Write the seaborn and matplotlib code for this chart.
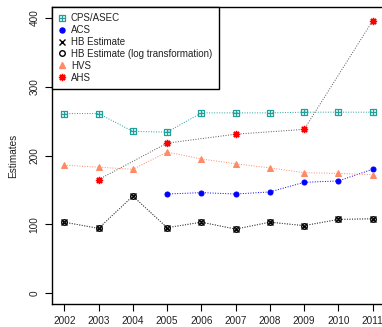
import numpy as np
import matplotlib
matplotlib.use("Agg")
import matplotlib.pyplot as plt
from matplotlib.path import Path
from matplotlib.lines import Line2D
import seaborn as sns

sns.set_style("white")
plt.rcParams['font.family'] = ['Liberation Sans', 'DejaVu Sans']

# --- data ---
years = [2002, 2003, 2004, 2005, 2006, 2007, 2008, 2009, 2010, 2011]
cps_asec = [261, 261, 235, 234, 262, 262, 262, 263, 263, 263]
hvs = [186, 183, 180, 205, 195, 188, 182, 175, 174, 172]
hb_est = [103, 94, 141, 95, 103, 93, 103, 98, 107, 108]
hb_log = [103, 94, 141, 95, 103, 93, 103, 98, 107, 108]

acs_years = [2005, 2006, 2007, 2008, 2009, 2010, 2011]
acs = [144, 146, 144, 147, 161, 163, 180]

ahs_years = [2003, 2005, 2007, 2009, 2011]
ahs = [165, 218, 231, 238, 396]

teal = "#1fa09b"
salmon = "#ff8a66"
txt = "#222222"

# square with a plus inside (R pch 12)
sq_plus = Path(
    [(-1, -1), (1, -1), (1, 1), (-1, 1), (-1, -1), (0, -1), (0, 1), (-1, 0), (1, 0)],
    [Path.MOVETO, Path.LINETO, Path.LINETO, Path.LINETO, Path.CLOSEPOLY,
     Path.MOVETO, Path.LINETO, Path.MOVETO, Path.LINETO])
asterisk = (8, 2, 0)
dot = (0, (1, 1.6))

fig = plt.figure(figsize=(3.82, 3.27), dpi=100)
ax = fig.add_axes([52 / 382, 23 / 327, 333 / 382, 297 / 327])

sns.lineplot(x=years, y=cps_asec, ax=ax, color=teal, lw=0.7, linestyle=dot,
             marker=sq_plus, ms=4, mfc="none", mec=teal, mew=0.9)
sns.lineplot(x=acs_years, y=acs, ax=ax, color="blue", lw=0.7, linestyle=dot,
             marker="o", ms=3.6, mfc="blue", mec="blue")
sns.lineplot(x=years, y=hb_est, ax=ax, color="#555555", lw=0.7, linestyle=dot,
             marker="x", ms=4, mec="black", mew=1.0)
sns.lineplot(x=years, y=hb_log, ax=ax, color="#555555", lw=0.7, linestyle=dot,
             marker="o", ms=4, mfc="none", mec="black", mew=1.0)
sns.lineplot(x=years, y=hvs, ax=ax, color=salmon, lw=0.7, linestyle=dot,
             marker="^", ms=4.6, mfc=salmon, mec=salmon)
sns.lineplot(x=ahs_years, y=ahs, ax=ax, color="#555555", lw=0.7, linestyle=dot,
             marker=asterisk, ms=5.2, mec="red", mew=1.0)

ax.set_xlim(2001.64, 2011.36)
ax.set_ylim(-16, 416)
ax.set_xticks(years)
ax.set_yticks([0, 100, 200, 300, 400])
ax.set_yticklabels(["0", "100", "200", "300", "400"], rotation=90, va="center")
ax.tick_params(axis="both", direction="out", length=5, width=0.8, color="black",
               labelsize=7.2, labelcolor=txt, pad=4, bottom=True, left=True)
ax.set_ylabel("Estimates", fontsize=7.2, color=txt, labelpad=8)
ax.set_xlabel("")
for s in ax.spines.values():
    s.set_color("black")
    s.set_linewidth(1.0)
    s.set_visible(True)
ax.grid(False)

handles = [
    Line2D([], [], ls="none", marker=sq_plus, ms=4, mfc="none", mec=teal, mew=0.9),
    Line2D([], [], ls="none", marker="o", ms=3.6, mfc="blue", mec="blue"),
    Line2D([], [], ls="none", marker="x", ms=4, mec="black", mew=1.0),
    Line2D([], [], ls="none", marker="o", ms=4, mfc="none", mec="black", mew=1.0),
    Line2D([], [], ls="none", marker="^", ms=4.6, mfc=salmon, mec=salmon),
    Line2D([], [], ls="none", marker=asterisk, ms=5.2, mec="red", mew=1.0),
]
labels = ["CPS/ASEC", "ACS", "HB Estimate", "HB Estimate (log transformation)", "HVS", "AHS"]
leg = ax.legend(handles, labels, loc="upper left", borderaxespad=0, fontsize=7,
                frameon=True, fancybox=False, framealpha=1, edgecolor="black",
                handlelength=0.7, handletextpad=0.6, labelspacing=0.19,
                borderpad=0.65)
leg.get_frame().set_linewidth(1.0)
for t in leg.get_texts():
    t.set_color(txt)

fig.savefig("out.png", dpi=100)
